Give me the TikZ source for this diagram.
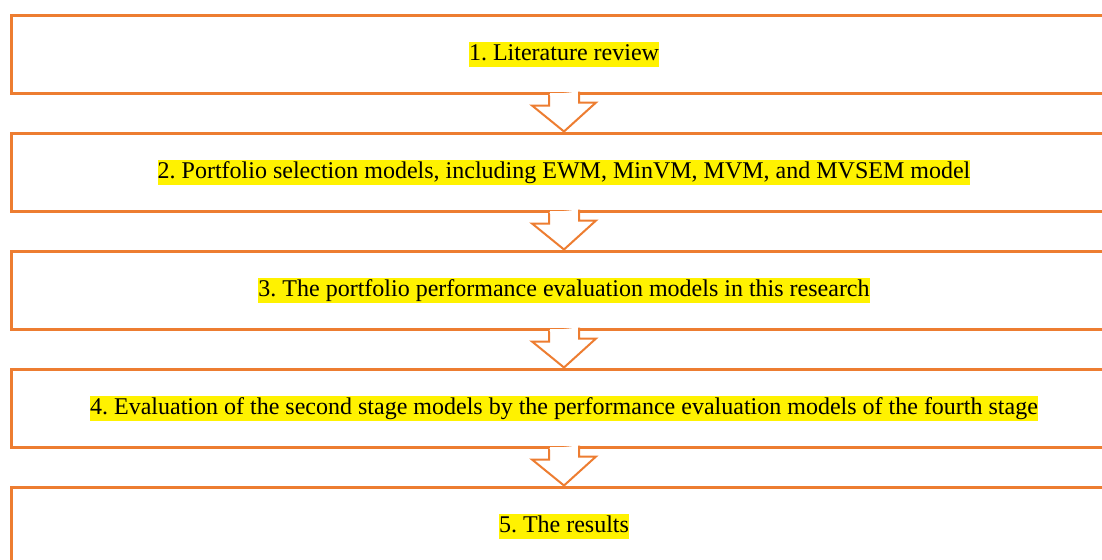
\documentclass[tikz,border=0pt]{standalone}
\usepackage{fontspec}
\setmainfont{Liberation Serif}
\usetikzlibrary{calc}
\definecolor{stageorange}{HTML}{ED7D31}
\tikzset{stagebox/.style={draw=stageorange, line width=1.5pt, minimum width=553pt, minimum height=39pt, inner sep=0pt},
  stagetext/.style={fill=yellow, inner sep=0pt, text height=9.5pt, text depth=3pt, font=\fontsize{12}{14}\selectfont\frenchspacing},
  stagearrow/.style={draw=stageorange, fill=white, line width=1pt, line join=miter},
  stagegap/.style={fill=white}}

\begin{document}
\begin{tikzpicture}[x=0.5pt,y=-0.5pt]
  \useasboundingbox (0,0) rectangle (1102,559);
  \clip (0,0) rectangle (1102,559);
  % the five stages
  \node[stagebox] (s1) at (564,54) {};
  \node[stagebox] (s2) at (564,172) {};
  \node[stagebox] (s3) at (564,290) {};
  \node[stagebox] (s4) at (564,408) {};
  \node[stagebox] (s5) at (564,526) {};
  \node[stagetext] (t1) at (s1) {1. Literature review};
  \node[stagetext] (t2) at (s2) {2. Portfolio selection models, including EWM, MinVM, MVM, and MVSEM model};
  \node[stagetext] (t3) at (s3) {3. The portfolio performance evaluation models in this research};
  \node[stagetext] (t4) at (s4) {4. Evaluation of the second stage models by the performance evaluation models of the fourth stage};
  \node[stagetext] (t5) at (s5) {5. The results};
  % hollow arrows between stages
  \draw[stagearrow] (s1.south) ++(-15,0) -- ++(0,11) -- ++(-17,0) -- (s2.north) -- ++(32,-29) -- ++(-17,0) -- ++(0,-11);
  \draw[stagearrow] (s2.south) ++(-15,0) -- ++(0,11) -- ++(-17,0) -- (s3.north) -- ++(32,-29) -- ++(-17,0) -- ++(0,-11);
  \draw[stagearrow] (s3.south) ++(-15,0) -- ++(0,11) -- ++(-17,0) -- (s4.north) -- ++(32,-29) -- ++(-17,0) -- ++(0,-11);
  \draw[stagearrow] (s4.south) ++(-15,0) -- ++(0,11) -- ++(-17,0) -- (s5.north) -- ++(32,-29) -- ++(-17,0) -- ++(0,-11);
  % open the box lines above the arrow shafts
  \fill[stagegap] ($(s1.south)+(-14,-2)$) rectangle ($(s1.south)+(14,1)$);
  \fill[stagegap] ($(s2.south)+(-14,-2)$) rectangle ($(s2.south)+(14,1)$);
  \fill[stagegap] ($(s3.south)+(-14,-2)$) rectangle ($(s3.south)+(14,1)$);
  \fill[stagegap] ($(s4.south)+(-14,-2)$) rectangle ($(s4.south)+(14,1)$);
\end{tikzpicture}
\end{document}
